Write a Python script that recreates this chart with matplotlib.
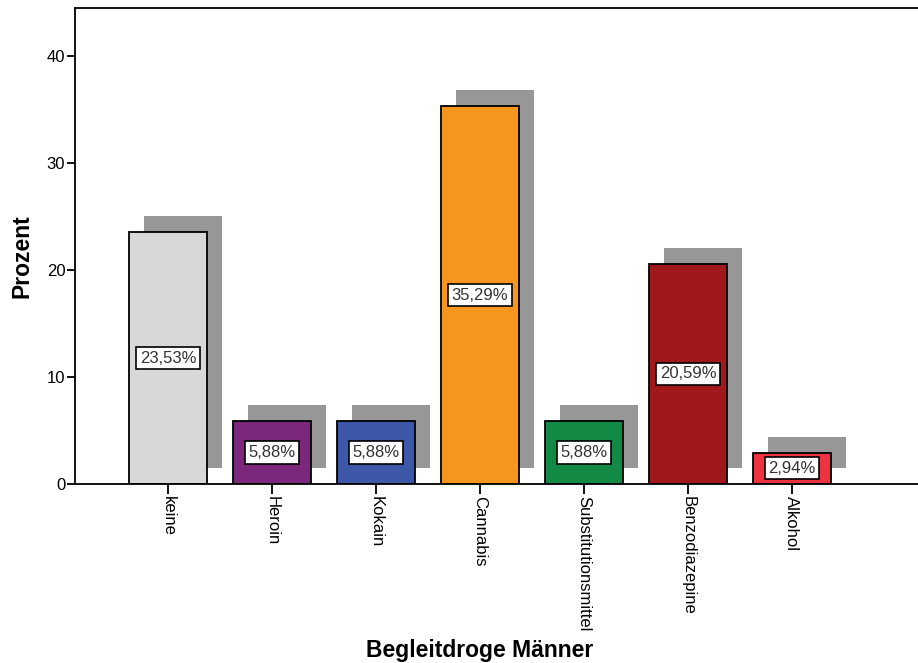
import matplotlib
matplotlib.use("Agg")
import matplotlib.pyplot as plt
import matplotlib.transforms as mtransforms

# Data
categories = ["keine", "Heroin", "Kokain", "Cannabis", "Substitutionsmittel",
              "Benzodiazepine", "Alkohol"]
percent = [23.53, 5.88, 5.88, 35.29, 5.88, 20.59, 2.94]
colors = ["#d8d8d8", "#7b287c", "#3d58a8", "#f7961f", "#128a46", "#a0171c", "#ee3340"]
y_ticks = [0, 10, 20, 30, 40]

plt.rcParams["font.family"] = ["Liberation Sans", "DejaVu Sans"]

W, H = 918, 663
fig = plt.figure(figsize=(W / 100, H / 100), dpi=100)
ax = fig.add_axes([75 / W, (663 - 484) / H, 843 / W, (484 - 8) / H])

x = list(range(len(categories)))
width = 0.75

# drop shadows: same bars shifted right and up by a fixed screen offset
shadow_offset = mtransforms.ScaledTranslation(15 / 100, 16 / 100, fig.dpi_scale_trans)
shadows = ax.bar(x, percent, width=width, color="#979797", edgecolor="none",
                 zorder=1)
for s in shadows:
    s.set_transform(ax.transData + shadow_offset)

ax.bar(x, percent, width=width, color=colors, edgecolor="black",
       linewidth=1.3, zorder=2)

for xi, v in zip(x, percent):
    ax.text(xi, v / 2, f"{v:.2f}%".replace(".", ","), ha="center", va="center",
            fontsize=12, color="#333333", zorder=3,
            bbox=dict(boxstyle="square,pad=0.22", facecolor="white",
                      edgecolor="black", linewidth=1.2))

ax.set_xlim(-0.894, 7.212)
ax.set_ylim(0, 44.49)
ax.set_yticks(y_ticks)
ax.set_xticks(x)
ax.set_xticklabels(categories, rotation=-90, va="top", ha="center", fontsize=12)
ax.tick_params(axis="y", labelsize=12, length=6, width=1.3, pad=1, direction="out")
ax.tick_params(axis="x", length=7, width=1.3, pad=2, direction="out")

ax.spines["right"].set_visible(False)
for sp in ["left", "bottom", "top"]:
    ax.spines[sp].set_linewidth(1.3)

ax.set_ylabel("Prozent", fontsize=16.5, fontweight="bold")
ax.yaxis.set_label_coords(-53 / 843, (484 - 256) / 476)
ax.set_xlabel("Begleitdroge Männer", fontsize=16.5, fontweight="bold")
ax.xaxis.set_label_coords((480 - 75) / 843, -(651 - 484) / 476)
ax.xaxis.label.set_va("center")
ax.yaxis.label.set_va("center")

fig.savefig("out.png", dpi=100)
